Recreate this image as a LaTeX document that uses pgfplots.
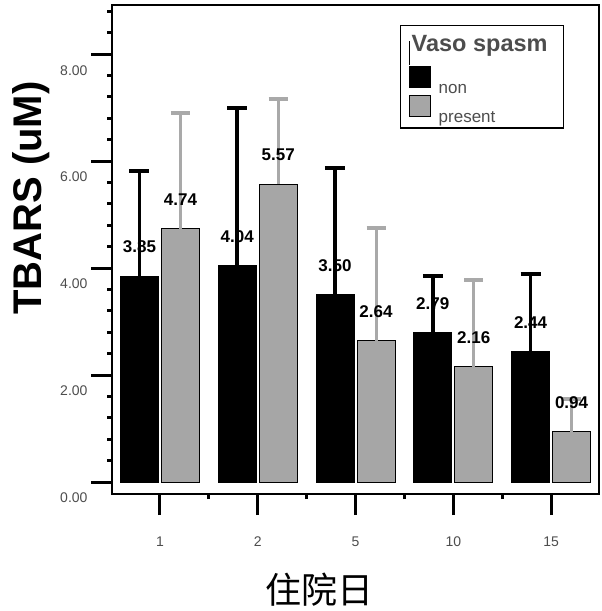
\documentclass[border=0pt]{standalone}
\usepackage{fontspec}
\setmainfont{Liberation Sans}
\newfontfamily\cjk{Noto Sans CJK SC}
\usepackage{pgfplots}
\pgfplotsset{compat=1.18}
\definecolor{barg}{HTML}{A6A6A6}
\definecolor{errg}{HTML}{A9A9A9}
\definecolor{tickg}{HTML}{4D4D4D}
\pgfplotstableread{
x y e
0 3.85 1.97
1 4.04 2.95
2 3.50 2.37
3 2.79 1.06
4 2.44 1.45
}\nondata
\pgfplotstableread{
x y e
0 4.74 2.16
1 5.57 1.59
2 2.64 2.11
3 2.16 1.62
4 0.94 0.61
}\presdata
\begin{document}
\begin{tikzpicture}[x=1pt,y=1pt]
\useasboundingbox (0,0) rectangle (602,611);
\begin{axis}[
 at={(112pt,117pt)}, anchor=south west,
 scale only axis, width=487pt, height=489pt,
 xmin=-0.49, xmax=4.49, ymin=-0.224, ymax=8.92,
 ybar=3pt, bar width=38pt,
 axis line style={line width=1.5pt},
 xtick={0,...,4}, xticklabels={1,2,5,10,15},
 minor xtick={0.5,1.5,2.5,3.5},
 ytick={0,2,4,6,8}, yticklabels={0.00,2.00,4.00,6.00,8.00},
 minor ytick={0.4,0.8,1.2,1.6,2.4,2.8,3.2,3.6,4.4,4.8,5.2,5.6,6.4,6.8,7.2,7.6,8.4,8.8},
 xtick pos=bottom, ytick pos=left, tick align=outside,
 major tick length=21pt, minor tick length=5pt,
 every tick/.style={black, line width=3pt},
 ticklabel style={font=\fontsize{14}{16}\selectfont, text=tickg},
 yticklabel style={yshift=-16pt},
 xticklabel style={yshift=-18pt},
 nodes near coords={\pgfmathprintnumber[fixed,fixed zerofill,precision=2,assume math mode=true]{\pgfplotspointmeta}},
 every node near coord/.append style={anchor=center, yshift=29pt, font=\bfseries\fontsize{17}{18}\selectfont, text=black},
 xlabel={\cjk\fontsize{36}{40}\selectfont 住院日},
 xlabel style={at={(axis description cs:0.427,-0.196)}, anchor=center},
 ylabel={\bfseries\fontsize{40}{42}\selectfont TBARS (uM)},
 ylabel style={at={(axis description cs:-0.166,0.605)}, anchor=center},
 legend style={at={(axis description cs:0.591,0.959)}, anchor=north west, draw=black, line width=1.4pt,
   font=\fontsize{17}{18}\selectfont, text=tickg, legend cell align=left, inner xsep=8pt, inner ysep=4pt,
   nodes={inner sep=0pt}, row sep=0pt},
]
\addlegendimage{legend image code/.code={\path (0pt,-23.6pt) -- (0pt,0pt);}}
\addlegendentry{\hspace*{-19pt}\rule[-9.6pt]{0pt}{31.2pt}\textbf{\fontsize{23.5}{26}\selectfont Vaso spasm}\hspace*{8pt}}
\addplot[fill=black, draw=black, line width=1pt,
  legend image code/.code={\draw[fill=black, draw=black, line width=1pt] (0pt,1.5pt) rectangle (21pt,22.5pt);},
  error bars/.cd, y dir=plus, y explicit,
  error bar style={line width=3.5pt, black},
  error mark options={rotate=90, line width=4pt, black, mark size=10pt}]
  table[x=x, y=y, y error=e] {\nondata};
\addlegendentry{\hspace*{8pt}\vphantom{t}non}
\addplot[fill=barg, draw=black, line width=1pt,
  legend image code/.code={\draw[fill=barg, draw=black, line width=1pt] (0pt,1.5pt) rectangle (21pt,22.5pt);},
  error bars/.cd, y dir=plus, y explicit,
  error bar style={line width=3pt, errg},
  error mark options={rotate=90, line width=4pt, errg, mark size=9.5pt}]
  table[x=x, y=y, y error=e] {\presdata};
\addlegendentry{\hspace*{8pt}\raisebox{0pt}[\height][0pt]{present}}
\end{axis}
\end{tikzpicture}
\end{document}
